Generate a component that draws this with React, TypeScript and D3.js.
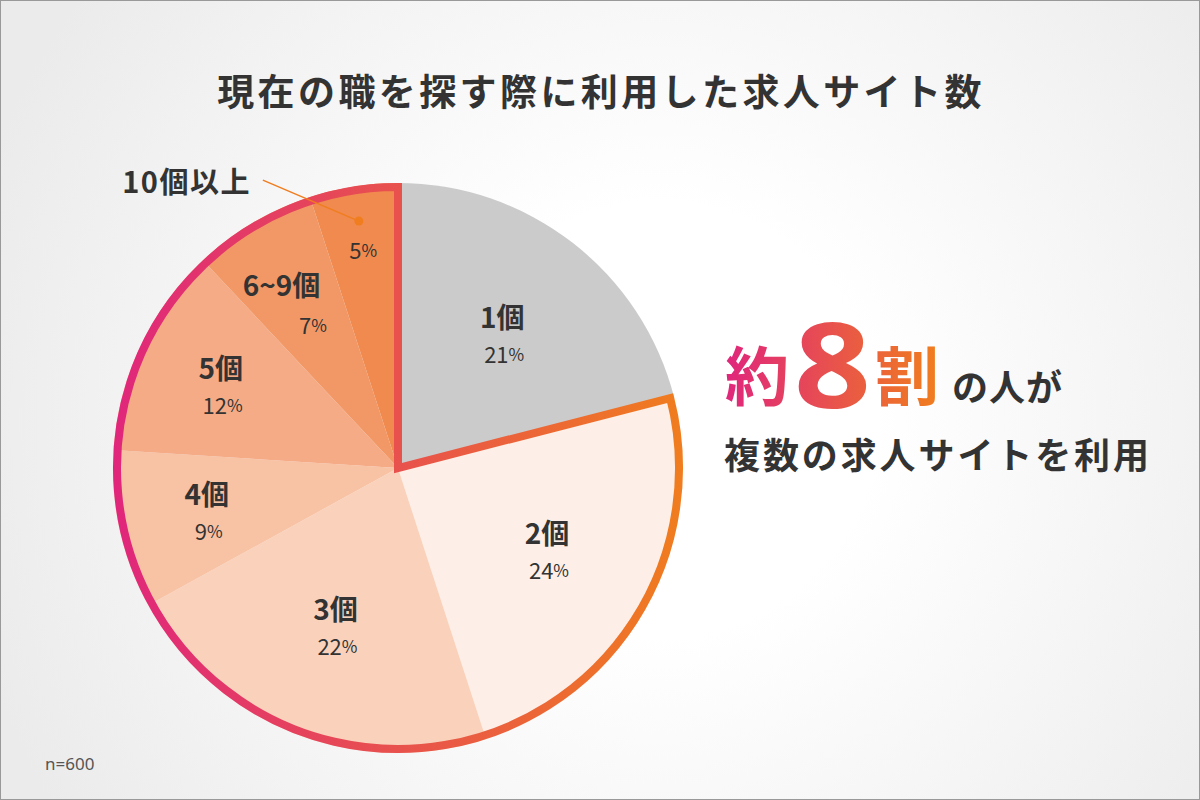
import React from 'react';
import * as d3 from 'd3';

const categories = ['1個', '2個', '3個', '4個', '5個', '6~9個', '10個以上'];
const shares = [21, 24, 22, 9, 12, 7, 5];
const chartTitle = '現在の職を探す際に利用した求人サイト数';
const sampleNote = 'n=600';

const sliceColors = ['#cbcbcb', '#fdefe7', '#fad2bc', '#f8c2a4', '#f5ab86', '#f29866', '#f08a4e'];

const W = 1200;
const H = 800;
const cx = 398;
const cy = 468;
const R = 285;
const JP = '"Noto Sans CJK JP", "Noto Sans", sans-serif';
const TEXT = '#333333';
const PINK = '#e0267c';
const ORANGE = '#f07d1e';

interface Slice {
  name: string;
  share: number;
}
const data: Slice[] = categories.map((name, i) => ({ name, share: shares[i] }));

type Arc = d3.PieArcDatum<Slice>;

const ringPoint = (d: Arc, r: number) =>
  d3.arc<Arc>().innerRadius(r).outerRadius(r).centroid(d);

const Pct: React.FC<{ x: number; y: number; v: number }> = ({ x, y, v }) => (
  <text x={x} y={y} textAnchor="middle" dominantBaseline="central" fill={TEXT} fontFamily={JP} fontSize={22}>
    {v}
    <tspan fontSize={17}>%</tspan>
  </text>
);

const Name: React.FC<{ x: number; y: number; label: string }> = ({ x, y, label }) => (
  <text x={x} y={y} textAnchor="middle" dominantBaseline="central" fill={TEXT} fontFamily={JP} fontWeight={700} fontSize={28}>
    {label}
  </text>
);

const Grad: React.FC<{ id: string; x1: number; x2: number }> = ({ id, x1, x2 }) => (
  <linearGradient id={id} x1={x1} x2={x2} y1={0} y2={0} gradientUnits="userSpaceOnUse">
    <stop offset="0" stopColor={PINK} />
    <stop offset="1" stopColor={ORANGE} />
  </linearGradient>
);

export default function App() {
  const arcs = d3.pie<Slice>().value((d) => d.share).sort(null)(data);
  const arc = d3.arc<Arc>().innerRadius(0).outerRadius(R);
  // outline round everyone who used more than one site
  const outline =
    d3.arc()({
      innerRadius: 0,
      outerRadius: R - 4,
      startAngle: arcs[1].startAngle,
      endAngle: arcs[arcs.length - 1].endAngle,
    }) ?? '';

  // the big "8" is stretched, so its gradient lives in its own coordinates
  const eightX = 794;
  const eightScale = 1.14;

  return (
    <svg
      width={W}
      height={H}
      viewBox={`0 0 ${W} ${H}`}
      style={{ position: 'absolute', left: 0, top: 0, display: 'block' }}
    >
      <defs>
        <radialGradient id="bg" cx={660} cy={420} r={720} gradientUnits="userSpaceOnUse">
          <stop offset="0.3" stopColor="#ffffff" />
          <stop offset="1" stopColor="#ebebeb" />
        </radialGradient>
        <Grad id="ring" x1={-R} x2={R} />
        <Grad id="hl" x1={725} x2={937} />
        <Grad id="hl8" x1={(725 - eightX) / eightScale} x2={(937 - eightX) / eightScale} />
      </defs>
      <rect x={0} y={0} width={W} height={H} fill="url(#bg)" />
      <rect x={0.5} y={0.5} width={W - 1} height={H - 1} fill="none" stroke="#999999" />

      <text
        x={601}
        y={106}
        textAnchor="middle"
        fill={TEXT}
        fontFamily={JP}
        fontWeight={700}
        fontSize={37}
        style={{ letterSpacing: '3.4px' }}
      >
        {chartTitle}
      </text>

      <g transform={`translate(${cx},${cy})`}>
        {arcs.map((d, i) => (
          <path key={d.data.name} d={arc(d) ?? ''} fill={sliceColors[i]} />
        ))}
        <path d={outline} fill="none" stroke="url(#ring)" strokeWidth={8} strokeLinejoin="miter" />

        {arcs.map((d, i) => {
          if (i === arcs.length - 1) {
            // small slice: label outside with a leader line
            const [dx, dy] = ringPoint(d, 250);
            const [px, py] = ringPoint(d, 222);
            const lx = dx - 96;
            const ly = dy - 41;
            return (
              <g key={d.data.name}>
                <line x1={dx} y1={dy} x2={lx} y2={ly} stroke={ORANGE} strokeWidth={1.5} />
                <circle cx={dx} cy={dy} r={4.5} fill={ORANGE} />
                <text
                  x={lx - 12}
                  y={ly}
                  textAnchor="end"
                  dominantBaseline="central"
                  fill={TEXT}
                  fontFamily={JP}
                  fontWeight={700}
                  fontSize={29}
                  style={{ letterSpacing: '1.5px' }}
                >
                  {d.data.name}
                </text>
                <Pct x={px} y={py} v={d.data.share} />
              </g>
            );
          }
          if (d.data.share < 8) {
            const [nx, ny] = ringPoint(d, 217);
            const [px, py] = ringPoint(d, 167);
            return (
              <g key={d.data.name}>
                <Name x={nx - 6} y={ny + 3} label={d.data.name} />
                <Pct x={px} y={py} v={d.data.share} />
              </g>
            );
          }
          const [x, y] = ringPoint(d, d.data.share >= 15 ? 170 : 196);
          return (
            <g key={d.data.name}>
              <Name x={x} y={y - 18} label={d.data.name} />
              <Pct x={x + 2} y={y + 19} v={d.data.share} />
            </g>
          );
        })}
      </g>

      <g fontFamily={JP} fontWeight={700}>
        <text x={725} y={400} fill="url(#hl)" fontSize={64}>約</text>
        <text
          x={0}
          y={0}
          fill="url(#hl8)"
          fontSize={118}
          fontFamily='"Noto Sans", sans-serif'
          transform={`translate(${eightX},408) scale(${eightScale},1)`}
        >
          8
        </text>
        <text x={875} y={400} fill="url(#hl)" fontSize={64}>割</text>
        <text x={952} y={401} fill={TEXT} fontSize={36} style={{ letterSpacing: '1px' }}>の人が</text>
        <text x={724} y={469} fill={TEXT} fontSize={36} style={{ letterSpacing: '2.9px' }}>
          複数の求人サイトを利用
        </text>
      </g>

      <text x={45} y={770} fill="#555555" fontFamily='"Noto Sans", sans-serif' fontSize={17}>
        {sampleNote}
      </text>
    </svg>
  );
}
